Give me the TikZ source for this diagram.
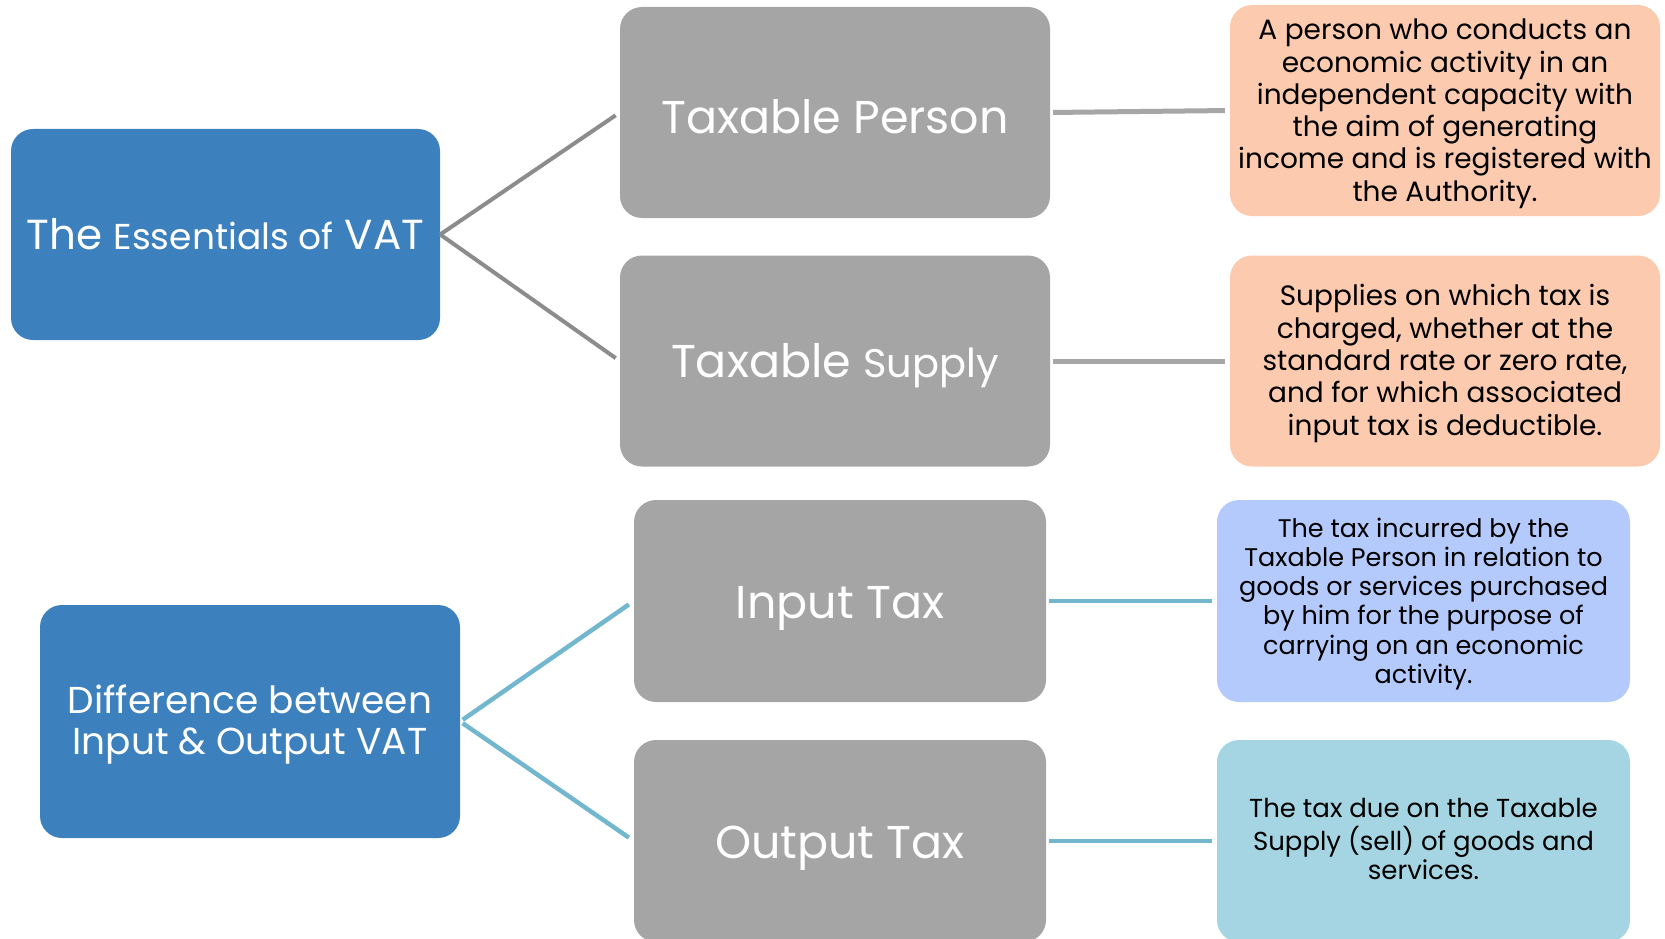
\documentclass[tikz,border=0pt]{standalone}
\usepackage{fontspec}
\setmainfont{Poppins}
\definecolor{mainblue}{RGB}{60,128,189}
\definecolor{boxgray}{RGB}{165,165,165}
\definecolor{peach}{RGB}{252,202,174}
\definecolor{periw}{RGB}{180,202,252}
\definecolor{tealbox}{RGB}{165,213,226}
\definecolor{lgray}{RGB}{140,140,140}
\definecolor{rgray}{RGB}{166,166,166}
\definecolor{tline}{RGB}{115,183,206}
\newcommand{\lowtext}[2]{\raisebox{-#1}[\height][\depth]{\begin{tabular}{@{}c@{}}#2\end{tabular}}}
\newcommand{\lowone}[2]{\raisebox{-#1}[\height][\depth]{#2}}
\tikzset{
  base/.style={rounded corners=22pt, inner sep=0pt},
  rootbox/.style={base, fill=mainblue, text=white},
  termbox/.style={base, fill=boxgray, text=white, minimum width=430pt, minimum height=211pt},
  termboxb/.style={base, fill=boxgray, text=white, minimum width=412pt, minimum height=202pt},
  descA/.style={base, fill=peach, text=black, minimum width=430pt, minimum height=211pt, font=\fontsize{28}{32.3}\selectfont},
  descB/.style={base, fill=periw, text=black, minimum width=413pt, minimum height=202pt, font=\fontsize{25.5}{29.2}\selectfont},
  descC/.style={base, fill=tealbox, text=black, minimum width=413pt, minimum height=202pt, font=\fontsize{26}{29.2}\selectfont},
  gconn/.style={draw=lgray, line width=4pt},
  hconn/.style={draw=rgray, line width=5pt},
  tconn/.style={draw=tline, line width=4.5pt},
}
\begin{document}
\begin{tikzpicture}[x=1pt,y=-1pt]
\useasboundingbox (0,0) rectangle (1665,939);
% top group
\node[rootbox, minimum width=429pt, minimum height=211pt] (b1) at (225.5,234.5)
  {\fontsize{42}{48}\selectfont The {\fontsize{36}{48}\selectfont Essentials of} VAT};
\node[termbox, font=\fontsize{46}{50}\selectfont] (tp) at (835,112.5) {\lowone{4pt}{Taxable Person}};
\node[termbox, font=\fontsize{46}{50}\selectfont] (ts) at (835,361) {\lowone{5pt}{Taxable {\fontsize{40}{50}\selectfont Supply}}};
\node[descA] (d1) at (1445,110.5) {\lowtext{3.5pt}{A person who conducts an\\economic activity in an\\independent capacity with\\the aim of generating\\income and is registered with\\the Authority.}};
\node[descA] (d2) at (1445,361) {\lowtext{3pt}{Supplies on which tax is\\charged, whether at the\\standard rate or zero rate,\\and for which associated\\input tax is deductible.}};
\draw[gconn, shorten >=5pt] (b1.east) -- (tp.west);
\draw[gconn, shorten >=5pt] (b1.east) -- (ts.west);
\draw[hconn, shorten <=3pt, shorten >=5pt] (tp.east) -- (d1.west);
\draw[hconn, shorten <=3pt, shorten >=5pt] (ts.east) -- (d2.west);
% bottom group
\node[rootbox, minimum width=420pt, minimum height=233pt, font=\fontsize{37.5}{41.5}\selectfont] (b2) at (250,721.5)
  {\lowtext{4pt}{Difference between\\Input \& Output VAT}};
\node[termboxb, font=\fontsize{46}{50}\selectfont] (it) at (840,601) {\lowone{7pt}{Input Tax}};
\node[termboxb, font=\fontsize{46}{50}\selectfont] (ot) at (840,841) {\lowone{7pt}{Output Tax}};
\node[descB] (d3) at (1423.5,601) {\lowtext{3.5pt}{The tax incurred by the\\Taxable Person in relation to\\goods or services purchased\\by him for the purpose of\\carrying on an economic\\activity.}};
\node[descC] (d4) at (1423.5,841) {\lowtext{2pt}{The tax due on the Taxable\\Supply (sell) of goods and\\services.}};
\draw[tconn, shorten <=3pt, shorten >=6pt] (b2.east) -- (it.west);
\draw[tconn, shorten <=3pt, shorten >=6pt] (b2.east) -- (ot.west);
\draw[tconn, shorten <=3pt, shorten >=5pt] (it.east) -- (d3.west);
\draw[tconn, shorten <=3pt, shorten >=5pt] (ot.east) -- (d4.west);
\end{tikzpicture}
\end{document}
